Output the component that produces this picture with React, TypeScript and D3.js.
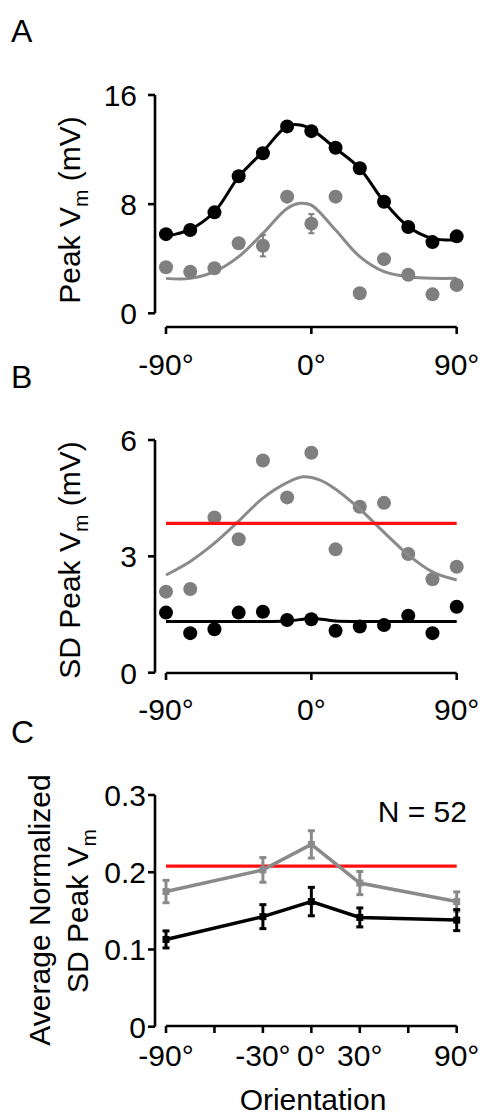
import React from "react";
import * as d3 from "d3";

// ---------- data ----------
const anglesA = [-90, -75, -60, -45, -30, -15, 0, 15, 30, 45, 60, 75, 90];
const peakBlack = [5.8, 6.1, 7.4, 10.05, 11.73, 13.7, 13.35, 12.13, 10.63, 8.18, 6.33, 5.22, 5.64];
const peakGray = [3.38, 3.05, 3.3, 5.13, 4.95, 8.55, 6.57, 8.55, 1.47, 3.97, 2.83, 1.39, 2.07];
const peakGrayErr = [0.3, 0.3, 0.3, 0.3, 0.78, 0.3, 0.7, 0.3, 0.3, 0.3, 0.3, 0.3, 0.3];

// fitted curves (angle, value)
const fitAngles = [-90, -75, -60, -45, -30, -15, -7, 0, 15, 30, 45, 60, 75, 90];
const peakBlackFit = [5.65, 6.15, 7.44, 10.0, 11.84, 13.72, 13.8, 13.48, 12.09, 10.62, 8.18, 6.35, 5.49, 5.37];
const peakGrayFit = [2.56, 2.56, 3.05, 4.15, 5.86, 7.69, 8.06, 7.93, 6.1, 4.15, 3.05, 2.68, 2.56, 2.56];

const sdBlack = [1.55, 1.02, 1.12, 1.55, 1.57, 1.36, 1.38, 1.08, 1.19, 1.23, 1.47, 1.02, 1.7];
const sdGray = [2.09, 2.16, 4.0, 3.44, 5.47, 4.52, 5.67, 3.18, 4.28, 4.38, 3.06, 2.41, 2.73];

const sdGrayFitAngles = [-90, -75, -60, -45, -30, -15, -5, 5, 15, 30, 45, 60, 75, 90];
const sdGrayFit = [2.52, 2.87, 3.34, 3.91, 4.5, 4.9, 5.05, 4.97, 4.73, 4.22, 3.62, 3.04, 2.6, 2.39];
const sdBlackFitAngles = [-90, -30, -15, -5, 0, 8, 15, 30, 90];
const sdBlackFit = [1.32, 1.32, 1.33, 1.38, 1.4, 1.37, 1.33, 1.32, 1.32];
const sdRedLevel = 3.85;

const anglesC = [-90, -30, 0, 30, 90];
const normGray = [0.175, 0.203, 0.236, 0.186, 0.162];
const normGrayErr = [0.0145, 0.016, 0.0177, 0.015, 0.0125];
const normBlack = [0.113, 0.1425, 0.162, 0.1415, 0.138];
const normBlackErr = [0.011, 0.0155, 0.0184, 0.0123, 0.0136];
const normRedLevel = 0.208;

const ticksA = [0, 8, 16];
const ticksB = [0, 3, 6];
const ticksC = [0, 0.1, 0.2, 0.3];
const xTicksAB = [-90, 0, 90];
const xTicksC = [-90, -60, -30, 0, 30, 60, 90];
const xLabelsC = [-90, -30, 0, 30, 90];

// ---------- style ----------
const FONT = "'Liberation Sans', Arial, Helvetica, sans-serif";
const FS = 30;
const GRAY_PT = "#7f7f7f";
const GRAY_LN = "#8a8a8a";
const RED = "#ff1010";

const x = d3.scaleLinear().domain([-90, 90]).range([166, 456.7]);
const yA = d3.scaleLinear().domain([0, 16]).range([313.3, 95]);
const yB = d3.scaleLinear().domain([0, 6]).range([672.7, 440]);
const yC = d3.scaleLinear().domain([0, 0.3]).range([1026.7, 795]);

const degLabel = (v: number) => `${v}°`;

function YAxis({ y, ticks, axisX, labelX, fmt }: { y: d3.ScaleLinear<number, number>; ticks: number[]; axisX: number; labelX: number; fmt: (v: number) => string }) {
  const [r0, r1] = y.range();
  return (
    <g>
      <line x1={axisX} x2={axisX} y1={r0} y2={r1} stroke="#000" strokeWidth={2.6} />
      {ticks.map((t) => (
        <g key={t}>
          <line x1={axisX - 7} x2={axisX} y1={y(t)} y2={y(t)} stroke="#000" strokeWidth={2.6} />
          <text x={labelX} y={y(t)} dy="0.36em" textAnchor="end" fontSize={FS} fontFamily={FONT}>
            {fmt(t)}
          </text>
        </g>
      ))}
    </g>
  );
}

function XAxis({ axisY, ticks, labels, labelY }: { axisY: number; ticks: number[]; labels: number[]; labelY: number }) {
  return (
    <g>
      <line x1={x(-90)} x2={x(90)} y1={axisY} y2={axisY} stroke="#000" strokeWidth={2.6} />
      {ticks.map((t) => (
        <line key={t} x1={x(t)} x2={x(t)} y1={axisY} y2={axisY + 7} stroke="#000" strokeWidth={2.6} />
      ))}
      {labels.map((t) => (
        <text key={t} x={x(t)} y={labelY} textAnchor="middle" fontSize={FS} fontFamily={FONT}>
          {degLabel(t)}
        </text>
      ))}
    </g>
  );
}

function Curve({ xs, ys, y, color, width = 3 }: { xs: number[]; ys: number[]; y: d3.ScaleLinear<number, number>; color: string; width?: number }) {
  const pts: [number, number][] = xs.map((a, i) => [a, ys[i]]);
  const gen = d3
    .line<[number, number]>()
    .x((d) => x(d[0]))
    .y((d) => y(d[1]))
    .curve(d3.curveCatmullRom.alpha(0.5));
  return <path d={gen(pts) || ""} fill="none" stroke={color} strokeWidth={width} strokeLinejoin="round" />;
}

function Dots({ xs, ys, y, color, r = 7 }: { xs: number[]; ys: number[]; y: d3.ScaleLinear<number, number>; color: string; r?: number }) {
  return (
    <g>
      {xs.map((a, i) => (
        <circle key={i} cx={x(a)} cy={y(ys[i])} r={r} fill={color} />
      ))}
    </g>
  );
}

function ErrBars({ xs, ys, es, y, color, cap = 3.5, width = 2.6 }: { xs: number[]; ys: number[]; es: number[]; y: d3.ScaleLinear<number, number>; color: string; cap?: number; width?: number }) {
  return (
    <g stroke={color} strokeWidth={width}>
      {xs.map((a, i) => {
        const cx = x(a);
        const top = y(ys[i] + es[i]);
        const bot = y(ys[i] - es[i]);
        return (
          <g key={i}>
            <line x1={cx} x2={cx} y1={top} y2={bot} />
            <line x1={cx - cap} x2={cx + cap} y1={top} y2={top} />
            <line x1={cx - cap} x2={cx + cap} y1={bot} y2={bot} />
          </g>
        );
      })}
    </g>
  );
}

function RotLabel({ bx, cy, children }: { bx: number; cy: number; children: React.ReactNode }) {
  return (
    <text transform={`translate(${bx},${cy}) rotate(-90)`} textAnchor="middle" fontSize={FS} fontFamily={FONT}>
      {children}
    </text>
  );
}

const Sub = ({ t }: { t: string }) => (
  <>
    <tspan dy={8} fontSize={21}>
      {t}
    </tspan>
    <tspan dy={-8}> </tspan>
  </>
);

export default function App() {
  const lineC = d3
    .line<[number, number]>()
    .x((d) => x(d[0]))
    .y((d) => yC(d[1]));
  const grayPts: [number, number][] = anglesC.map((a, i) => [a, normGray[i]]);
  const blackPts: [number, number][] = anglesC.map((a, i) => [a, normBlack[i]]);

  return (
    <svg
      width={483}
      height={1118}
      viewBox="0 0 483 1118"
      style={{ position: "absolute", left: 0, top: 0, background: "#fff" }}
    >
      <rect x={0} y={0} width={483} height={1118} fill="#fff" />

      {/* Panel A */}
      <text x={11} y={42} fontSize={32} fontFamily={FONT}>A</text>
      <RotLabel bx={80} cy={210}>
        Peak V<Sub t="m" />(mV)
      </RotLabel>
      <YAxis y={yA} ticks={ticksA} axisX={155} labelX={137} fmt={(v) => `${v}`} />
      <XAxis axisY={327} ticks={xTicksAB} labels={xTicksAB} labelY={375} />
      <Curve xs={fitAngles} ys={peakGrayFit} y={yA} color={GRAY_LN} />
      <ErrBars xs={anglesA} ys={peakGray} es={peakGrayErr} y={yA} color={GRAY_PT} cap={3} width={2} />
      <Dots xs={anglesA} ys={peakGray} y={yA} color={GRAY_PT} />
      <Curve xs={fitAngles} ys={peakBlackFit} y={yA} color="#000" />
      <Dots xs={anglesA} ys={peakBlack} y={yA} color="#000" />

      {/* Panel B */}
      <text x={11} y={388} fontSize={32} fontFamily={FONT}>B</text>
      <RotLabel bx={80} cy={560}>
        SD Peak V<Sub t="m" />(mV)
      </RotLabel>
      <YAxis y={yB} ticks={ticksB} axisX={155} labelX={137} fmt={(v) => `${v}`} />
      <XAxis axisY={673} ticks={xTicksAB} labels={xTicksAB} labelY={720} />
      <Dots xs={anglesA} ys={sdGray} y={yB} color={GRAY_PT} />
      <Curve xs={sdGrayFitAngles} ys={sdGrayFit} y={yB} color={GRAY_LN} />
      <line x1={x(-90)} x2={x(90)} y1={yB(sdRedLevel)} y2={yB(sdRedLevel)} stroke={RED} strokeWidth={3.2} />
      <Dots xs={anglesA} ys={sdBlack} y={yB} color="#000" />
      <Curve xs={sdBlackFitAngles} ys={sdBlackFit} y={yB} color="#000" />

      {/* Panel C */}
      <text x={11} y={743} fontSize={32} fontFamily={FONT}>C</text>
      <RotLabel bx={50} cy={910}>Average Normalized</RotLabel>
      <RotLabel bx={88} cy={911}>
        SD Peak V<tspan dy={8} fontSize={21}>m</tspan>
      </RotLabel>
      <YAxis y={yC} ticks={ticksC} axisX={155} labelX={146} fmt={(v) => (v === 0 ? "0" : d3.format(".1f")(v))} />
      <XAxis axisY={1026} ticks={xTicksC} labels={xLabelsC} labelY={1066} />
      <text x={467} y={822} textAnchor="end" fontSize={FS} fontFamily={FONT}>N = 52</text>
      <line x1={x(-90)} x2={x(90)} y1={yC(normRedLevel)} y2={yC(normRedLevel)} stroke={RED} strokeWidth={3.2} />
      <path d={lineC(grayPts) || ""} fill="none" stroke={GRAY_LN} strokeWidth={3.5} />
      <ErrBars xs={anglesC} ys={normGray} es={normGrayErr} y={yC} color={GRAY_LN} cap={3.5} width={3} />
      {grayPts.map((d, i) => (
        <rect key={i} x={x(d[0]) - 3.5} y={yC(d[1]) - 3.5} width={7} height={7} fill={GRAY_LN} />
      ))}
      <path d={lineC(blackPts) || ""} fill="none" stroke="#000" strokeWidth={3.5} />
      <ErrBars xs={anglesC} ys={normBlack} es={normBlackErr} y={yC} color="#000" cap={3.5} width={3} />
      {blackPts.map((d, i) => (
        <rect key={i} x={x(d[0]) - 3.5} y={yC(d[1]) - 3.5} width={7} height={7} fill="#000" />
      ))}
      <text x={313} y={1110} textAnchor="middle" fontSize={FS} fontFamily={FONT}>Orientation</text>
    </svg>
  );
}
